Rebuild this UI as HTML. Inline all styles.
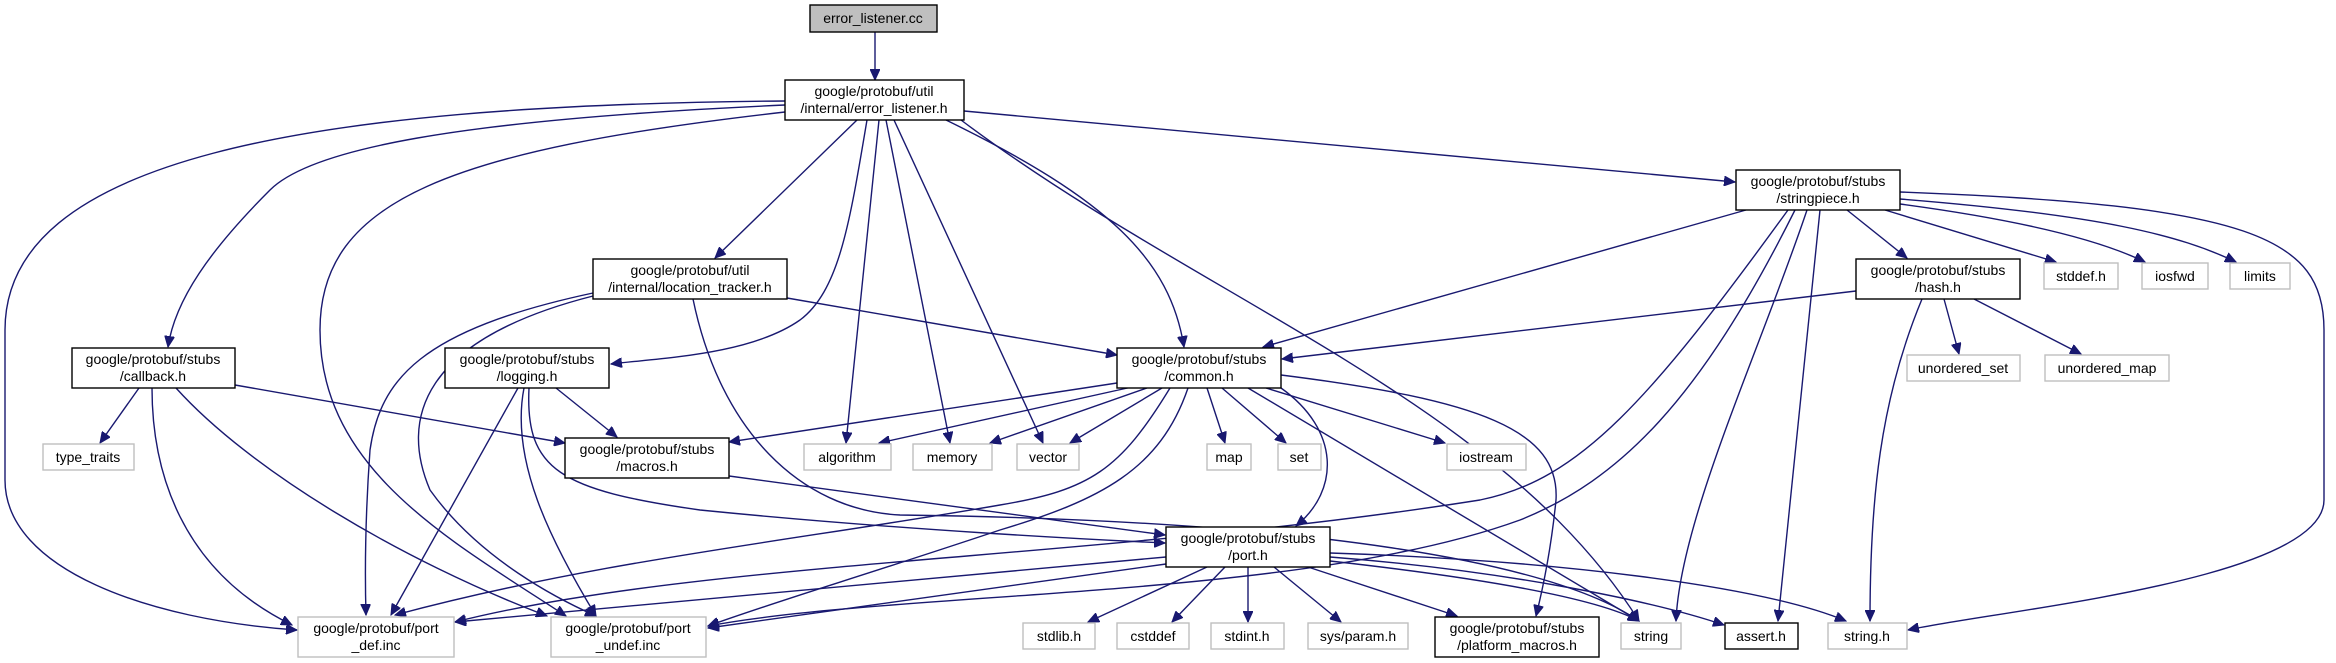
<!DOCTYPE html>
<html><head><meta charset="utf-8"><style>
html,body{margin:0;padding:0;background:#fff;}
svg{display:block}
text{font-family:"Liberation Sans",sans-serif;font-size:14px;fill:#000;text-anchor:middle}
.e{fill:none;stroke:#191970;stroke-width:1.4;marker-end:url(#a)}
.b{fill:#fff;stroke:#000;stroke-width:1.4}
.g{fill:#fff;stroke:#bfbfbf;stroke-width:1.4}
</style></head><body>
<svg width="2336" height="663" viewBox="0 0 2336 663" xmlns="http://www.w3.org/2000/svg">
<defs><marker id="a" markerWidth="12" markerHeight="10" refX="11" refY="5" orient="auto" markerUnits="userSpaceOnUse"><path d="M0,0 L11,5 L0,10 Z" fill="#191970" stroke="#191970"/></marker></defs>

<!-- edges -->
<path class="e" d="M875,32 L875,80"/>
<path class="e" d="M785,101 C300,105 5,160 5,330 L5,480 C5,570 150,620 297,630"/>
<path class="e" d="M785,105 C450,120 310,150 270,190 C210,250 175,300 168,347"/>
<path class="e" d="M785,112 C450,150 320,200 320,330 C320,470 450,540 566,616"/>
<path class="e" d="M857,120 L715,258"/>
<path class="e" d="M867,120 C850,220 840,290 800,320 C750,355 660,358 611,364"/>
<path class="e" d="M879,120 L846,443"/>
<path class="e" d="M886,120 L950,443"/>
<path class="e" d="M894,120 L1043,443"/>
<path class="e" d="M946,120 C1110,200 1170,260 1184,347"/>
<path class="e" d="M961,120 C1200,300 1500,400 1639,621"/>
<path class="e" d="M964,111 L1735,182"/>

<path class="e" d="M1746,210 L1263,347"/>
<path class="e" d="M1788,210 C1650,400 1580,480 1480,500 C1100,560 700,560 455,622"/>
<path class="e" d="M1795,210 C1700,400 1620,480 1520,520 C1300,600 900,590 708,626"/>
<path class="e" d="M1807,210 C1760,350 1680,520 1676,621"/>
<path class="e" d="M1820,210 L1778,621"/>
<path class="e" d="M1847,210 L1907,258"/>
<path class="e" d="M1885,210 L2056,262"/>
<path class="e" d="M1900,204 C2020,220 2100,240 2145,262"/>
<path class="e" d="M1900,199 C2100,215 2180,235 2236,262"/>
<path class="e" d="M1900,192 C2250,205 2324,237 2324,330 L2324,500 C2324,580 2000,610 1908,630"/>

<path class="e" d="M1856,291 L1282,359"/>
<path class="e" d="M1922,299 C1880,400 1870,500 1870,621"/>
<path class="e" d="M1944,299 L1959,354"/>
<path class="e" d="M1974,299 L2081,354"/>

<path class="e" d="M787,298 L1117,355"/>
<path class="e" d="M593,293 C420,330 380,380 370,450 C365,520 365,580 366,615"/>
<path class="e" d="M593,296 C420,340 400,420 430,490 C480,560 560,600 596,616"/>
<path class="e" d="M693,299 C720,430 800,510 900,515 C1300,520 1550,560 1639,621"/>

<path class="e" d="M235,385 L565,443"/>
<path class="e" d="M139,388 L100,443"/>
<path class="e" d="M152,388 C152,470 180,570 292,625"/>
<path class="e" d="M176,388 C250,470 400,560 547,616"/>

<path class="e" d="M556,388 L617,437"/>
<path class="e" d="M518,388 L391,615"/>
<path class="e" d="M524,388 C510,460 550,540 596,616"/>
<path class="e" d="M529,388 C525,470 560,490 700,510 C900,530 1100,540 1165,543"/>

<path class="e" d="M729,476 L1165,535"/>

<path class="e" d="M1117,383 L729,442"/>
<path class="e" d="M1132,387 L879,443"/>
<path class="e" d="M1147,388 L990,443"/>
<path class="e" d="M1162,388 L1070,443"/>
<path class="e" d="M1207,388 L1225,443"/>
<path class="e" d="M1222,388 L1286,443"/>
<path class="e" d="M1266,388 L1445,443"/>
<path class="e" d="M1281,388 C1340,430 1340,490 1296,526"/>
<path class="e" d="M1170,388 C1120,470 1090,490 1000,505 C800,540 600,560 395,615"/>
<path class="e" d="M1188,388 C1160,470 1100,500 1000,530 C850,580 780,600 708,626"/>
<path class="e" d="M1248,388 L1639,621"/>
<path class="e" d="M1281,375 C1480,400 1560,430 1556,500 C1550,560 1540,600 1536,616"/>

<path class="e" d="M1166,557 L455,622"/>
<path class="e" d="M1166,564 L708,628"/>
<path class="e" d="M1207,567 L1088,622"/>
<path class="e" d="M1225,567 L1172,622"/>
<path class="e" d="M1248,567 L1248,622"/>
<path class="e" d="M1274,567 L1341,622"/>
<path class="e" d="M1308,567 L1457,616"/>
<path class="e" d="M1330,561 C1500,580 1600,600 1639,621"/>
<path class="e" d="M1330,557 C1500,570 1650,600 1724,625"/>
<path class="e" d="M1330,553 C1550,560 1760,585 1846,621"/>

<!-- nodes -->
<rect x="810" y="5" width="127" height="27" fill="#bfbfbf" stroke="#000" stroke-width="1.4"/>
<text x="873" y="23">error_listener.cc</text>

<rect class="b" x="785" y="80" width="179" height="40"/>
<text x="874" y="96">google/protobuf/util</text><text x="874" y="113">/internal/error_listener.h</text>

<rect class="b" x="1736" y="170" width="164" height="40" stroke="#404040"/>
<text x="1818" y="186">google/protobuf/stubs</text><text x="1818" y="203">/stringpiece.h</text>

<rect class="b" x="593" y="259" width="194" height="40"/>
<text x="690" y="275">google/protobuf/util</text><text x="690" y="292">/internal/location_tracker.h</text>

<rect class="b" x="1856" y="259" width="164" height="40"/>
<text x="1938" y="275">google/protobuf/stubs</text><text x="1938" y="292">/hash.h</text>

<rect class="g" x="2044" y="263" width="74" height="26"/><text x="2081" y="281">stddef.h</text>
<rect class="g" x="2142" y="263" width="66" height="26"/><text x="2175" y="281">iosfwd</text>
<rect class="g" x="2230" y="263" width="60" height="26"/><text x="2260" y="281">limits</text>

<rect class="b" x="72" y="348" width="163" height="40"/>
<text x="153" y="364">google/protobuf/stubs</text><text x="153" y="381">/callback.h</text>

<rect class="b" x="445" y="348" width="164" height="40"/>
<text x="527" y="364">google/protobuf/stubs</text><text x="527" y="381">/logging.h</text>

<rect class="b" x="1117" y="348" width="164" height="40"/>
<text x="1199" y="364">google/protobuf/stubs</text><text x="1199" y="381">/common.h</text>

<rect class="g" x="1907" y="355" width="113" height="26"/><text x="1963" y="373">unordered_set</text>
<rect class="g" x="2045" y="355" width="124" height="26"/><text x="2107" y="373">unordered_map</text>

<rect class="g" x="43" y="444" width="91" height="26"/><text x="88" y="462">type_traits</text>

<rect class="b" x="565" y="438" width="164" height="40" stroke="#404040"/>
<text x="647" y="454">google/protobuf/stubs</text><text x="647" y="471">/macros.h</text>

<rect class="g" x="804" y="444" width="87" height="26"/><text x="847" y="462">algorithm</text>
<rect class="g" x="913" y="444" width="79" height="26"/><text x="952" y="462">memory</text>
<rect class="g" x="1017" y="444" width="62" height="26"/><text x="1048" y="462">vector</text>
<rect class="g" x="1207" y="444" width="44" height="26"/><text x="1229" y="462">map</text>
<rect class="g" x="1278" y="444" width="43" height="26"/><text x="1299" y="462">set</text>
<rect class="g" x="1447" y="444" width="79" height="26"/><text x="1486" y="462">iostream</text>

<rect class="b" x="1166" y="527" width="164" height="40"/>
<text x="1248" y="543">google/protobuf/stubs</text><text x="1248" y="560">/port.h</text>

<rect class="g" x="298" y="617" width="156" height="40"/>
<text x="376" y="633">google/protobuf/port</text><text x="376" y="650">_def.inc</text>
<rect class="g" x="551" y="617" width="155" height="40"/>
<text x="628" y="633">google/protobuf/port</text><text x="628" y="650">_undef.inc</text>

<rect class="g" x="1023" y="623" width="72" height="26"/><text x="1059" y="641">stdlib.h</text>
<rect class="g" x="1117" y="623" width="72" height="26"/><text x="1153" y="641">cstddef</text>
<rect class="g" x="1211" y="623" width="73" height="26"/><text x="1247" y="641">stdint.h</text>
<rect class="g" x="1308" y="623" width="100" height="26"/><text x="1358" y="641">sys/param.h</text>

<rect class="b" x="1435" y="617" width="164" height="40"/>
<text x="1517" y="633">google/protobuf/stubs</text><text x="1517" y="650">/platform_macros.h</text>

<rect class="g" x="1621" y="623" width="60" height="26"/><text x="1651" y="641">string</text>
<rect class="b" x="1725" y="623" width="73" height="26"/><text x="1761" y="641">assert.h</text>
<rect class="g" x="1828" y="623" width="79" height="26"/><text x="1867" y="641">string.h</text>
</svg>
</body></html>
